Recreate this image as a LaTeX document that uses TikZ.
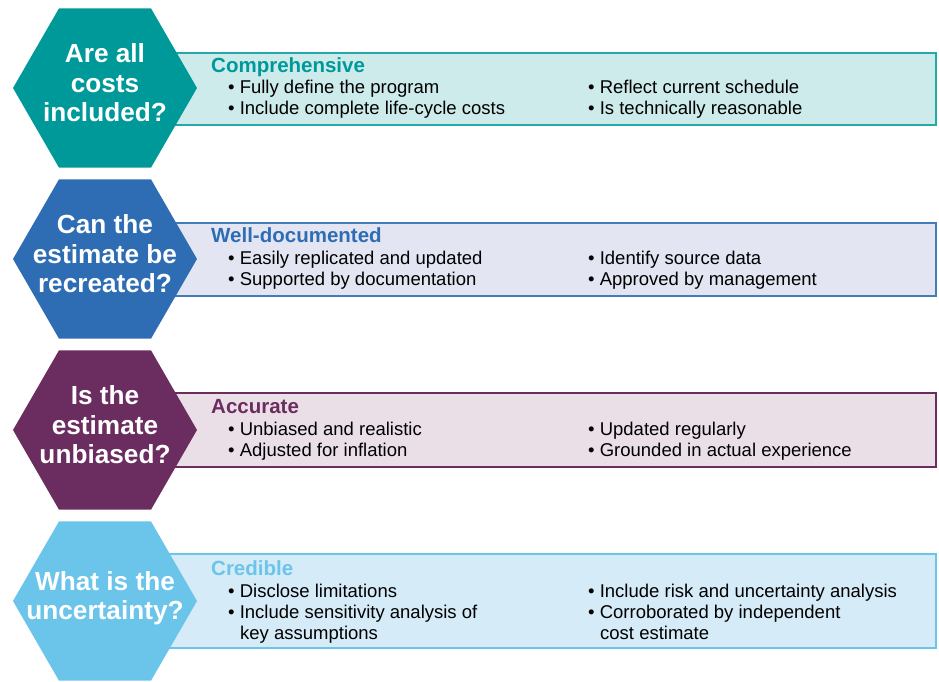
\documentclass[tikz,border=0pt]{standalone}
\usepackage{fontspec}
\setmainfont{Liberation Sans}
\usetikzlibrary{shapes.geometric}

\definecolor{tealhex}{RGB}{0,153,153}
\definecolor{tealfill}{RGB}{205,235,234}
\definecolor{bluehex}{RGB}{46,109,180}
\definecolor{bluefill}{RGB}{227,230,242}
\definecolor{plumhex}{RGB}{107,44,95}
\definecolor{plumfill}{RGB}{235,223,231}
\definecolor{skyhex}{RGB}{107,196,234}
\definecolor{skyfill}{RGB}{213,235,247}

\tikzset{
  hexa/.style={regular polygon,regular polygon sides=6,minimum size=184pt,
    inner sep=0pt,draw=none},
  hextext/.style={text=white,align=center,font=\fontsize{26.2}{29.5}\selectfont\bfseries},
  panel/.style={line width=1.5pt},
  title/.style={anchor=base west,inner sep=0pt,font=\fontsize{20.5}{24}\selectfont\bfseries},
  item/.style={anchor=base west,inner sep=0pt,font=\fontsize{18.5}{21}\selectfont}
}

\begin{document}
\begin{tikzpicture}[x=1pt,y=-1pt]
\useasboundingbox (0,0) rectangle (939,681);

% row 1
\draw[panel,draw=tealhex!85,fill=tealfill](150,53)rectangle(936,125);
\node[hexa,fill=tealhex] (hex1) at (105,88){};
\node[hextext] (q1) at ([yshift=5pt]hex1.center){Are all\\costs\\included?};
\node[title,text=tealhex] (t1) at (211,72){Comprehensive};
\node[item] (a1) at (228,93){\textbullet\ Fully define the program};
\node[item] (b1) at (228,114){\textbullet\ Include complete life-cycle costs};
\node[item] (c1) at (588,93){\textbullet\ Reflect current schedule};
\node[item] (d1) at (588,114){\textbullet\ Is technically reasonable};

% row 2
\draw[panel,draw=bluehex!90,fill=bluefill](150,223)rectangle(936,296);
\node[hexa,fill=bluehex] (hex2) at (105,259){};
\node[hextext] (q2) at ([yshift=5pt]hex2.center){Can the\\estimate be\\recreated?};
\node[title,text=bluehex] (t2) at (211,242){Well-documented};
\node[item] (a2) at (228,264){\textbullet\ Easily replicated and updated};
\node[item] (b2) at (228,285){\textbullet\ Supported by documentation};
\node[item] (c2) at (588,264){\textbullet\ Identify source data};
\node[item] (d2) at (588,285){\textbullet\ Approved by management};

% row 3
\draw[panel,draw=plumhex,fill=plumfill](150,393)rectangle(936,467);
\node[hexa,fill=plumhex] (hex3) at (105,430){};
\node[hextext] (q3) at ([yshift=5pt]hex3.center){Is the\\estimate\\unbiased?};
\node[title,text=plumhex] (t3) at (211,413){Accurate};
\node[item] (a3) at (228,435){\textbullet\ Unbiased and realistic};
\node[item] (b3) at (228,456){\textbullet\ Adjusted for inflation};
\node[item] (c3) at (588,435){\textbullet\ Updated regularly};
\node[item] (d3) at (588,456){\textbullet\ Grounded in actual experience};

% row 4
\draw[panel,draw=skyhex,fill=skyfill](150,554)rectangle(936,648);
\node[hexa,fill=skyhex] (hex4) at (105,601){};
\node[hextext] (q4) at ([yshift=3pt]hex4.center){What is the\\uncertainty?};
\node[title,text=skyhex] (t4) at (211,575){Credible};
\node[item] (a4) at (228,597){\textbullet\ Disclose limitations};
\node[item] (b4) at (228,618){\textbullet\ Include sensitivity analysis of};
\node[item] (b4x) at (240,639){key assumptions};
\node[item] (c4) at (588,597){\textbullet\ Include risk and uncertainty analysis};
\node[item] (d4) at (588,618){\textbullet\ Corroborated by independent};
\node[item] (d4x) at (600,639){cost estimate};
\end{tikzpicture}
\end{document}
